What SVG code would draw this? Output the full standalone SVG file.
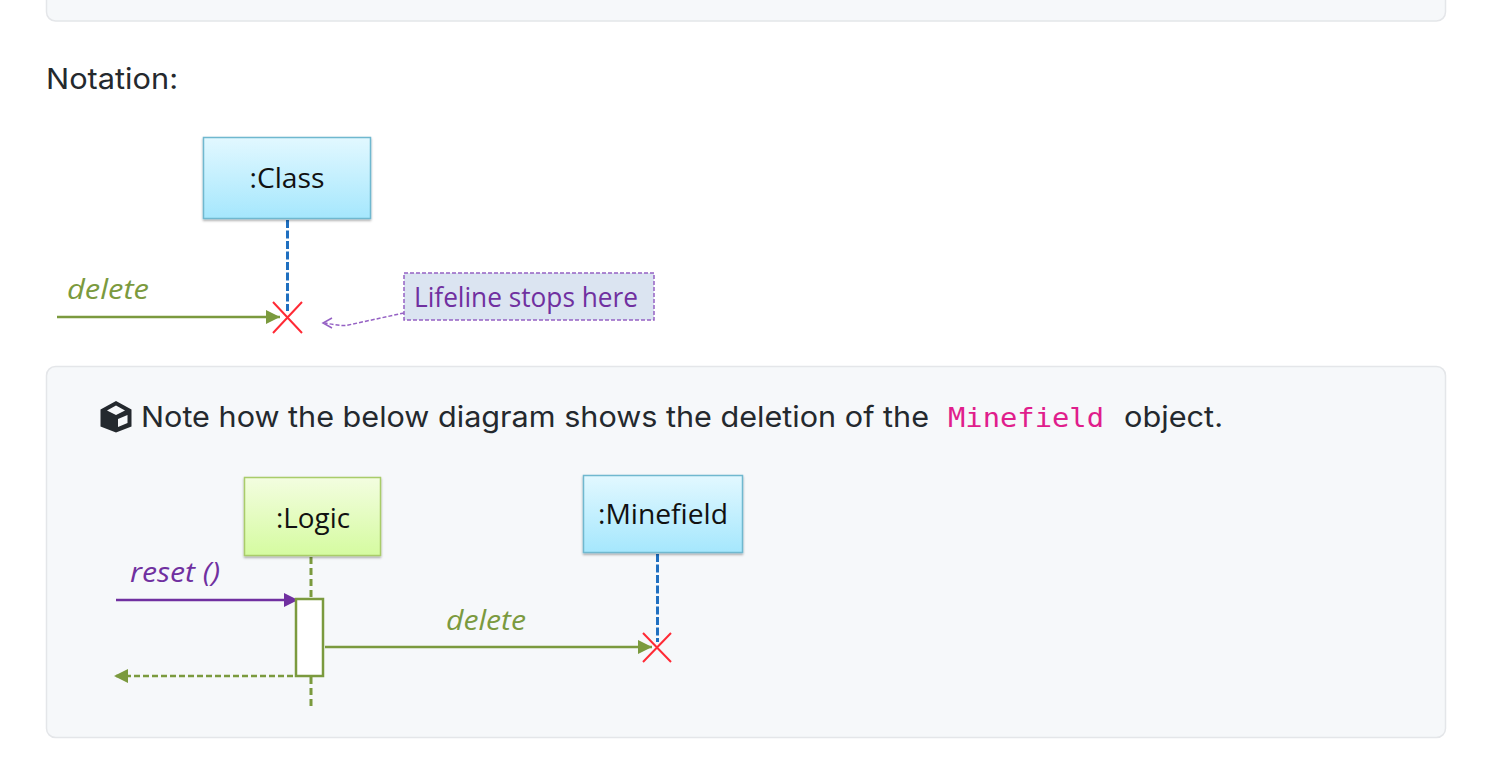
<svg xmlns="http://www.w3.org/2000/svg" width="1490" height="768" viewBox="0 0 1490 768">
<style>
.panel{fill:#f6f8fa;stroke:#e4e6e9;stroke-width:1.5}
.body{font-family:"Inter","Liberation Sans",Arial,sans-serif;font-size:29px;fill:#24292e}
.uml{font-family:"Open Sans","Noto Sans",sans-serif;font-size:28px;fill:#111;text-anchor:middle}
.msg{font-family:"Open Sans","Noto Sans",sans-serif;font-size:28px;font-style:italic}
.green{fill:#7b9a3e}.purple{fill:#7030a0}
.blue-box{fill:url(#blueGrad);stroke:#6fb8cf;stroke-width:1.5;filter:url(#shadow)}
.green-box{fill:url(#greenGrad);stroke:#a9cc6a;stroke-width:1.5;filter:url(#shadow)}
.life-b{stroke:#1f6fc0;stroke-width:3;stroke-dasharray:8 2.500;fill:none}
.life-g{stroke:#7b9a3e;stroke-width:3;stroke-dasharray:7 4;fill:none}
.ln-g{stroke:#7b9a3e;stroke-width:2.400;fill:none}
.ln-p{stroke:#7030a0;stroke-width:2.400;fill:none}
.x{stroke:#ff2a35;stroke-width:2;fill:none}
</style>
<defs>
<linearGradient id="blueGrad" x1="0" y1="0" x2="0" y2="1"><stop offset="0" stop-color="#e2f8ff"/><stop offset="1" stop-color="#a5e7fd"/></linearGradient>
<linearGradient id="greenGrad" x1="0" y1="0" x2="0" y2="1"><stop offset="0" stop-color="#f3fde0"/><stop offset="1" stop-color="#d5fba0"/></linearGradient>
<filter id="shadow" x="-5%" y="-5%" width="110%" height="112%"><feDropShadow dx="0" dy="1.500" stdDeviation="1" flood-color="#000" flood-opacity=".35"/></filter>
<marker id="ag" markerWidth="15" markerHeight="14" refX="14" refY="7" orient="auto" markerUnits="userSpaceOnUse"><path d="M0 0L14 7L0 14Z" fill="#7b9a3e"/></marker>
<marker id="ap" markerWidth="15" markerHeight="14" refX="14" refY="7" orient="auto" markerUnits="userSpaceOnUse"><path d="M0 0L14 7L0 14Z" fill="#7030a0"/></marker>
</defs>
<rect width="1490" height="768" fill="#fff"/>
<rect id="top-panel" class="panel" x="46.500" y="-30" width="1399" height="51" rx="9"/>
<text id="notation" class="body" x="46" y="89" textLength="132" lengthAdjust="spacingAndGlyphs">Notation:</text>
<g id="connectors-top">
<path class="life-b" d="M287.500 220V311"/>
<path class="ln-g" d="M57 317H280" marker-end="url(#ag)"/>
<path d="M404 313L346 325.500Q340 326 325 323" fill="none" stroke="#9561c4" stroke-width="1.500" stroke-dasharray="4 2"/>
<path d="M332 318L323 323L332 328" fill="none" stroke="#9561c4" stroke-width="1.500"/>
</g>
<g id="class-node"><rect class="blue-box" x="203.500" y="137.500" width="167" height="81"/><text class="uml" x="287" y="188" textLength="75" lengthAdjust="spacingAndGlyphs">:Class</text></g>
<g id="delete-label-1"><text class="msg green" x="67" y="299" textLength="82" lengthAdjust="spacingAndGlyphs">delete</text></g>
<g id="x-1"><path class="x" d="M273 302L302 333M302 302L273 333"/></g>
<g id="note"><rect x="404" y="273" width="250" height="47" fill="#dbe4f1" stroke="#9561c4" stroke-width="1.500" stroke-dasharray="4 2"/><text x="414" y="307" font-family="'Open Sans','Noto Sans',sans-serif" font-size="27px" class="purple" textLength="224" lengthAdjust="spacingAndGlyphs">Lifeline stops here</text></g>
<rect id="panel" class="panel" x="46.500" y="366.500" width="1399" height="371" rx="9"/>
<g id="note-line">
<path id="box-icon" fill="#24292e" fill-rule="evenodd" d="M116 401L131.500 409.500V426.500L116 432.500L100.500 426.500V409.500ZM116 405.500L107 410.500L116 415L125 410.500ZM118 419V427L127.500 423V415Z"/>
<text class="body" x="141" y="427" textLength="788" lengthAdjust="spacingAndGlyphs">Note how the below diagram shows the deletion of the</text>
<text x="948" y="427" font-family="'DejaVu Sans Mono','Liberation Mono',monospace" font-size="26px" fill="#e01e8c" textLength="156" lengthAdjust="spacingAndGlyphs">Minefield</text>
<text class="body" x="1124" y="427" textLength="99" lengthAdjust="spacingAndGlyphs">object.</text>
</g>
<g id="connectors-bottom">
<path class="life-g" d="M311 557V598M311 677V708"/>
<path class="life-b" d="M657.500 554V642"/>
<path class="ln-p" d="M116 600H298" marker-end="url(#ap)"/>
<path class="ln-g" d="M325 647H652" marker-end="url(#ag)"/>
<path class="ln-g" d="M293 676H114" stroke-dasharray="6 3" marker-end="url(#ag)"/>
</g>
<g id="logic-node"><rect class="green-box" x="244.500" y="477.500" width="136" height="78"/><text class="uml" x="313" y="528" textLength="74" lengthAdjust="spacingAndGlyphs">:Logic</text></g>
<g id="minefield-node"><rect class="blue-box" x="583.500" y="475.500" width="159" height="77"/><text class="uml" x="663" y="524" textLength="130" lengthAdjust="spacingAndGlyphs">:Minefield</text></g>
<g id="activation"><rect x="296" y="599" width="27" height="77" fill="#fff" stroke="#7b9a3e" stroke-width="2.500"/></g>
<g id="reset-label"><text class="msg purple" x="130" y="582" textLength="90" lengthAdjust="spacingAndGlyphs">reset ()</text></g>
<g id="delete-label-2"><text class="msg green" x="446" y="630" textLength="80" lengthAdjust="spacingAndGlyphs">delete</text></g>
<g id="x-2"><path class="x" d="M643 633L671 662M671 633L643 662"/></g>
</svg>
